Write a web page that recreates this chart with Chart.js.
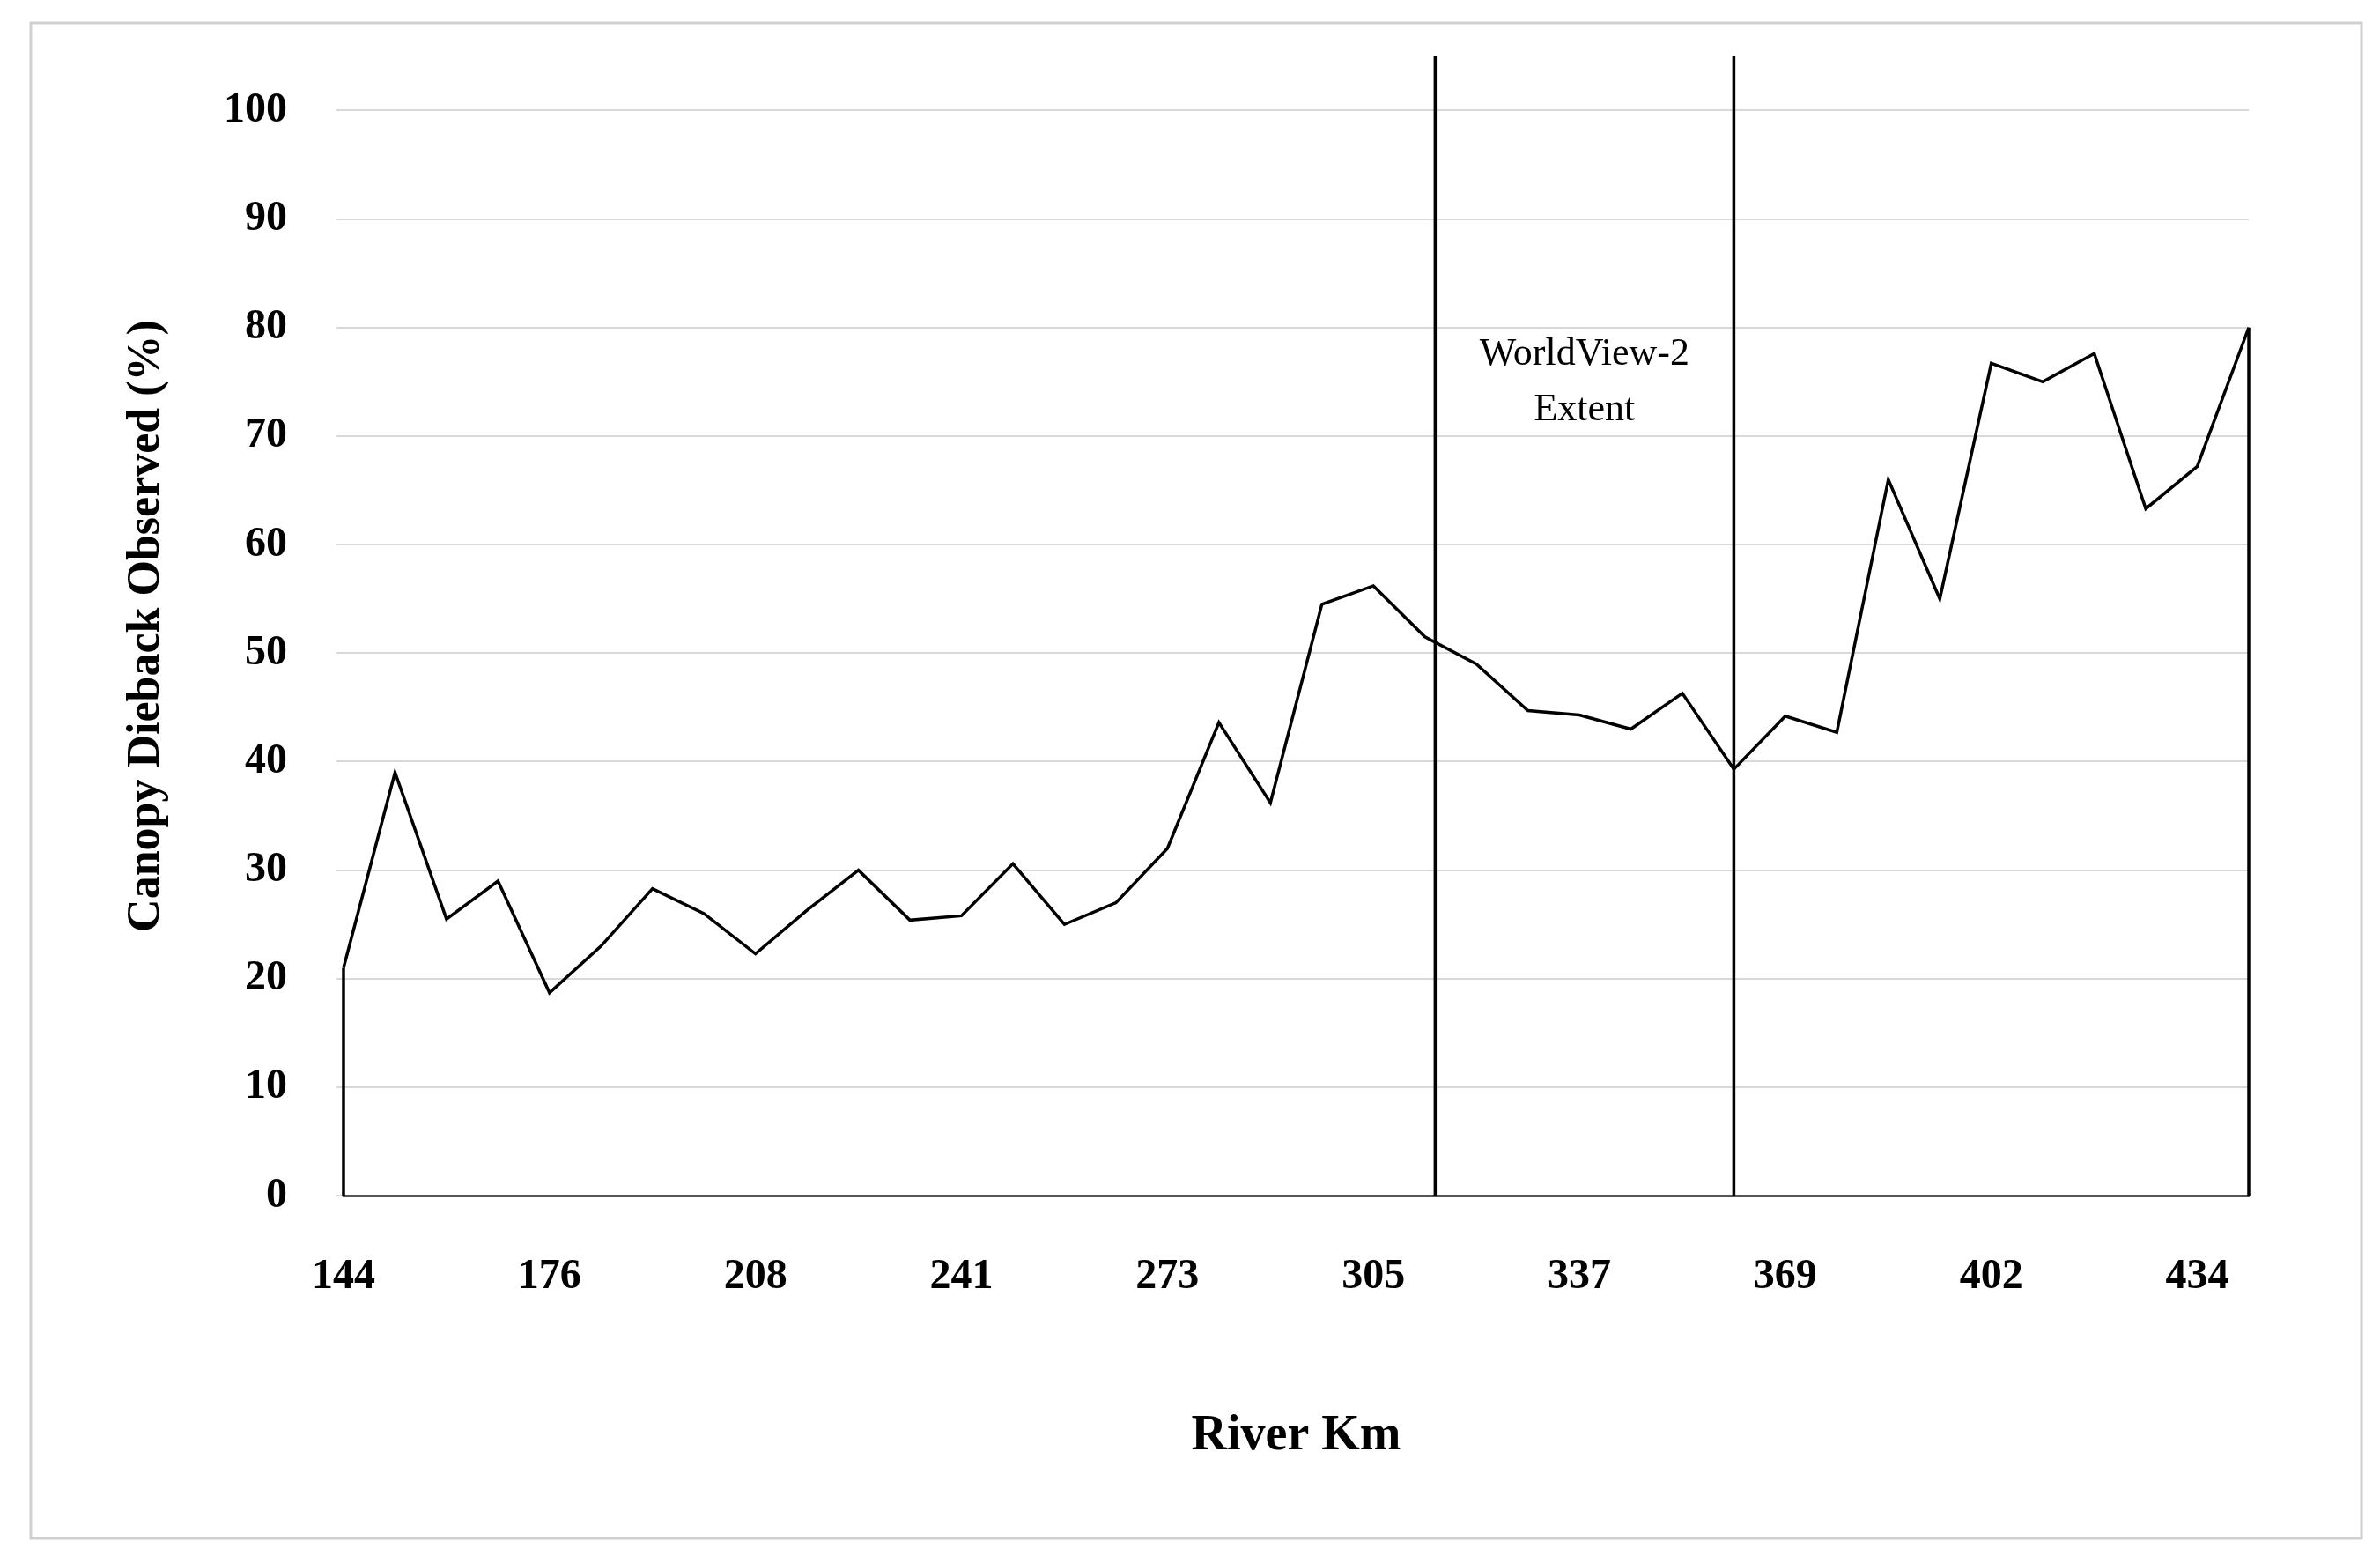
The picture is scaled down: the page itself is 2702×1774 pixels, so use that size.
<!DOCTYPE html>
<html><head><meta charset="utf-8">
<script src="https://cdn.jsdelivr.net/npm/chart.js@4/dist/chart.umd.min.js"></script>
<style>html,body{margin:0;padding:0;background:#fff;overflow:hidden}#w{width:2702px;height:1774px;position:relative;overflow:hidden}#c{position:absolute;left:0;top:-21px}</style>
</head><body><div id="w"><canvas id="c" width="2702" height="1795"></canvas></div>
<script>
const riverKm = ["144","152","160","168","176","184","192","200","208","216","225","233","241","249","257","265","273","281","289","297","305","313","321","329","337","345","353","361","369","377","385","394","402","410","418","426","434","442"];
const dieback = [21,39,25.5,29,18.7,23,28.3,26,22.3,26.3,30,25.4,25.8,30.6,25,27,32,43.6,36.2,54.5,56.2,51.5,49,44.7,44.3,43,46.3,39.3,44.2,42.7,66,55,76.7,75,77.6,63.3,67.2,80];
const yTicks = [0,10,20,30,40,50,60,70,80,90,100];
const extentLines = [21.2, 27];
const extentLabel = ["WorldView-2", "Extent"];

const deco = {
  id:'deco',
  afterDatasetsDraw(ch){
    const {ctx, scales:{x,y}} = ch;
    ctx.save();
    ctx.strokeStyle='#000'; ctx.lineWidth=3.5;
    const n = dieback.length-1;
    [[0,dieback[0]],[n,dieback[n]]].forEach(([i,v])=>{
      ctx.beginPath(); ctx.moveTo(x.getPixelForValue(i), y.getPixelForValue(0));
      ctx.lineTo(x.getPixelForValue(i), y.getPixelForValue(v)); ctx.stroke();
    });
    extentLines.forEach(i=>{
      const px = x.getPixelForValue(i);
      ctx.beginPath(); ctx.moveTo(px, y.getPixelForValue(0)); ctx.lineTo(px, y.getPixelForValue(105)); ctx.stroke();
    });
    ctx.fillStyle='#000'; ctx.font='44px "Liberation Serif"'; ctx.textAlign='center'; ctx.textBaseline='middle';
    const cx = (x.getPixelForValue(extentLines[0])+x.getPixelForValue(extentLines[1]))/2;
    ctx.fillText(extentLabel[0], cx, y.getPixelForValue(77.5));
    ctx.fillText(extentLabel[1], cx, y.getPixelForValue(72.4));
    ctx.strokeStyle='#d0d0d0'; ctx.lineWidth=3;
    ctx.strokeRect(35,26+21,2646,1720);
    ctx.restore();
  }
};

new Chart(document.getElementById('c'), {
  type:'line',
  data:{labels:riverKm, datasets:[{data:dieback, borderColor:'#000', borderWidth:3.5, pointRadius:0, tension:0, fill:false}]},
  options:{
    responsive:false, animation:false, devicePixelRatio:1,
    layout:{padding:{top:0,right:149,left:135,bottom:106}},
    plugins:{legend:{display:false}, tooltip:{enabled:false}},
    scales:{
      x:{
        grid:{display:false},
        border:{color:'#555', width:3},
        ticks:{autoSkip:false, maxRotation:0, padding:56, color:'#000',
          font:{family:'Liberation Serif', size:48, weight:'bold'},
          callback:(v,i)=> i%4===0 ? riverKm[i] : ''},
        title:{display:true, text:'River Km', color:'#000', padding:{top:62,bottom:4},
          font:{family:'Liberation Serif', size:56, weight:'bold'}}
      },
      y:{
        min:0, max:105,
        grid:{color:'#d9d9d9', lineWidth:2},
        border:{display:false},
        afterBuildTicks(s){ s.ticks = yTicks.map(v=>({value:v})); },
        ticks:{padding:56, color:'#000', font:{family:'Liberation Serif', size:48, weight:'bold'}},
        title:{display:true, text:'Canopy Dieback Observed (%)', color:'#000', padding:{top:0,bottom:0},
          font:{family:'Liberation Serif', size:52, weight:'bold'}},
        afterFit(s){ s.width = 255; }
      }
    }
  },
  plugins:[deco]
});
</script></body></html>
